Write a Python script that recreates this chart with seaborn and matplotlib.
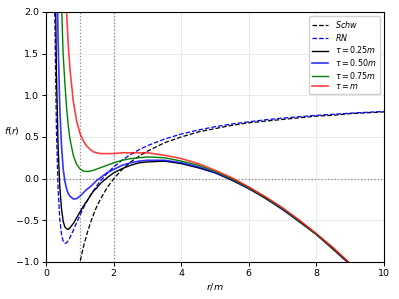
import matplotlib
matplotlib.use("Agg")
import matplotlib.pyplot as plt
import seaborn as sns
import pandas as pd

r = [0.2, 0.25, 0.3, 0.35, 0.4, 0.45, 0.5, 0.55, 0.6, 0.65, 0.7, 0.8, 0.9,
     1.0, 1.1, 1.2, 1.3, 1.4, 1.5, 1.6, 1.8, 2.0, 2.25, 2.5, 2.75, 3.0,
     3.5, 4.0, 4.5, 5.0, 5.5, 6.0, 6.5, 7.0, 7.5, 8.0, 8.5, 9.0, 9.5, 10.0]

f_schw = [-9.0, -7.0, -5.67, -4.71, -4.0, -3.44, -3.0, -2.64, -2.33, -2.08, -1.86, -1.5, -1.22,
          -1.0, -0.82, -0.67, -0.54, -0.43, -0.33, -0.25, -0.11, 0.0, 0.11, 0.2, 0.27, 0.33,
          0.43, 0.5, 0.56, 0.6, 0.64, 0.67, 0.69, 0.71, 0.73, 0.75, 0.76, 0.78, 0.79, 0.8]

f_rn = [5.06, 2.0, 0.583, -0.122, -0.484, -0.667, -0.75, -0.777, -0.771, -0.746, -0.709, -0.621, -0.528,
        -0.438, -0.353, -0.276, -0.205, -0.142, -0.083, -0.03, 0.062, 0.141, 0.222, 0.29, 0.347, 0.396,
        0.474, 0.535, 0.583, 0.623, 0.655, 0.682, 0.706, 0.726, 0.743, 0.759, 0.772, 0.785, 0.796, 0.806]

f_t025 = [6.6, 3.0, 1.28, 0.39, -0.10, -0.36, -0.51, -0.58, -0.60, -0.61, -0.59, -0.54, -0.47,
          -0.40, -0.33, -0.27, -0.21, -0.15, -0.11, -0.06, 0.01, 0.07, 0.12, 0.16, 0.19, 0.20,
          0.21, 0.18, 0.13, 0.07, -0.02, -0.12, -0.24, -0.37, -0.52, -0.67, -0.85, -1.03, -1.22, -1.43]

f_t050 = [11.3, 6.0, 3.0, 1.65, 0.85, 0.40, 0.12, -0.03, -0.12, -0.18, -0.21, -0.245, -0.24,
          -0.21, -0.17, -0.13, -0.10, -0.06, -0.02, 0.01, 0.07, 0.11, 0.16, 0.19, 0.21, 0.22,
          0.22, 0.19, 0.14, 0.07, -0.01, -0.12, -0.23, -0.37, -0.51, -0.67, -0.84, -1.03, -1.22, -1.43]

f_t075 = [19.1, 11.0, 6.83, 4.47, 3.03, 2.11, 1.49, 1.15, 0.86, 0.64, 0.48, 0.28, 0.17,
          0.115, 0.09, 0.085, 0.09, 0.10, 0.116, 0.13, 0.16, 0.19, 0.22, 0.24, 0.25, 0.26,
          0.25, 0.21, 0.16, 0.085, -0.004, -0.11, -0.23, -0.36, -0.51, -0.67, -0.84, -1.02, -1.22, -1.43]

f_t100 = [30.1, 18.0, 11.69, 8.04, 5.76, 4.27, 3.24, 2.52, 2.0, 1.61, 1.32, 0.93, 0.69,
          0.54, 0.45, 0.39, 0.35, 0.32, 0.31, 0.30, 0.30, 0.30, 0.31, 0.31, 0.31, 0.31,
          0.28, 0.24, 0.18, 0.10, 0.01, -0.10, -0.22, -0.35, -0.50, -0.66, -0.83, -1.02, -1.21, -1.42]

labels = ["$Schw$", "$RN$", r"$\tau = 0.25m$", r"$\tau = 0.50m$", r"$\tau = 0.75m$", r"$\tau = m$"]

df = pd.DataFrame({"r": r, "schw": f_schw, "rn": f_rn, "t025": f_t025,
                   "t050": f_t050, "t075": f_t075, "t100": f_t100})

plt.rcParams["font.size"] = 6.8

fig, ax = plt.subplots(figsize=(3.99, 2.99), dpi=100)
fig.subplots_adjust(left=0.116, right=0.962, top=0.96, bottom=0.124)

# background guides
ax.grid(True, color="#dddddd", lw=0.6, alpha=0.7)
ax.axhline(0, color="#888888", ls=":", lw=0.9)
ax.axvline(1, color="#888888", ls=":", lw=0.9)
ax.axvline(2, color="#888888", ls=":", lw=0.9)

sns.lineplot(ax=ax, data=df, x="r", y="schw", color="black", lw=0.9, label=labels[0])
ax.lines[-1].set_linestyle("--")
sns.lineplot(ax=ax, data=df, x="r", y="rn", color="blue", lw=0.9, label=labels[1])
ax.lines[-1].set_linestyle("--")
sns.lineplot(ax=ax, data=df, x="r", y="t025", color="black", lw=1.0, label=labels[2])
sns.lineplot(ax=ax, data=df, x="r", y="t050", color="blue", lw=1.2, alpha=0.8, label=labels[3])
sns.lineplot(ax=ax, data=df, x="r", y="t075", color="green", lw=1.0, label=labels[4])
sns.lineplot(ax=ax, data=df, x="r", y="t100", color="red", lw=1.2, alpha=0.75, label=labels[5])

ax.set_xlim(0, 10)
ax.set_ylim(-1, 2)
ax.set_xticks([0, 2, 4, 6, 8, 10])
ax.set_yticks([-1.0, -0.5, 0.0, 0.5, 1.0, 1.5, 2.0])
ax.set_xlabel("$r/m$", labelpad=2)
ax.set_ylabel("$f(r)$", rotation=0, labelpad=3)
ax.tick_params(length=3, width=0.7, pad=2)

leg = ax.legend(loc="upper right", fontsize=5.8, handlelength=2.0, borderpad=0.4,
                labelspacing=0.2, handletextpad=0.8, framealpha=0.9)
leg.get_lines()[0].set_linestyle("--")
leg.get_lines()[1].set_linestyle("--")

fig.savefig("out.png", dpi=100)
